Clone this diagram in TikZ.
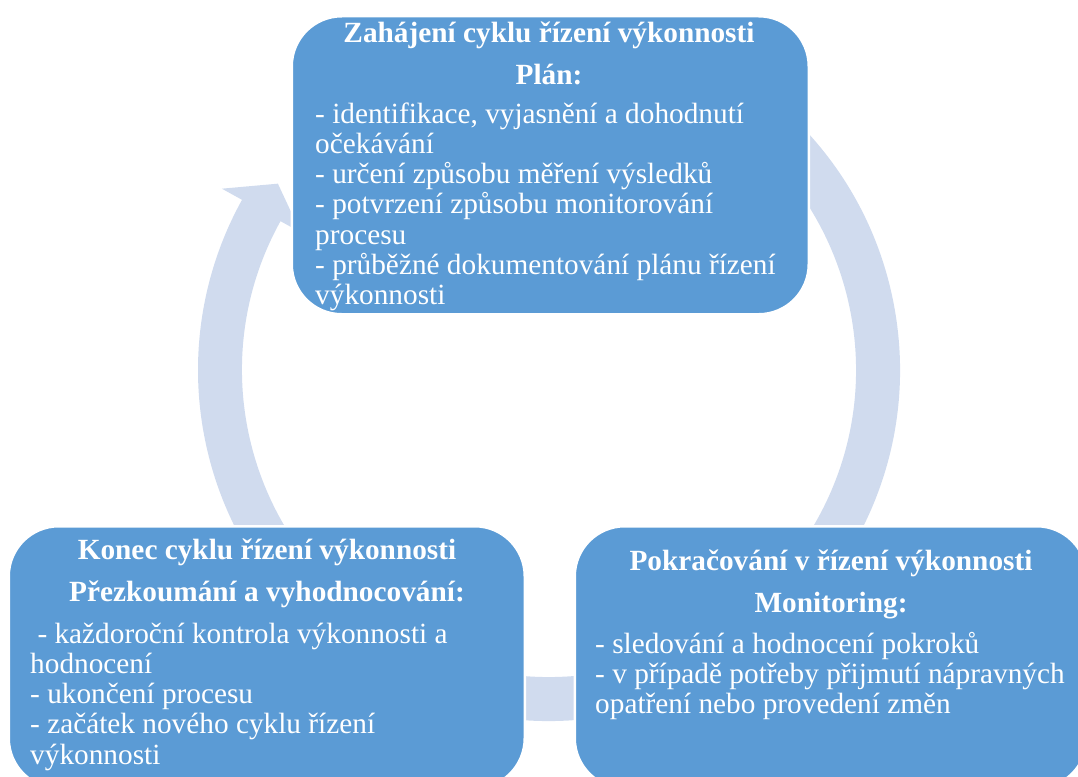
\documentclass[tikz,border=0pt]{standalone}
\usepackage{fontspec}
\setmainfont{Liberation Serif}
\usetikzlibrary{calc}
\definecolor{boxblue}{HTML}{5B9BD5}
\definecolor{ringblue}{HTML}{D0DBEE}
\begin{document}
\begin{tikzpicture}[x=1pt,y=-1pt,
  box/.style={fill=boxblue, draw=white, line width=2.5pt, rounded corners=50pt, inner sep=0pt, anchor=north west},
  ttl/.style={text=white, inner sep=0pt, font=\fontsize{29.3}{42}\selectfont\bfseries, anchor=base},
  body/.style={text=white, inner sep=0pt, font=\fontsize{29.3}{30.3}\selectfont, anchor=base west}]
\useasboundingbox (0,0) rectangle (1078,776);
\coordinate (c) at (549,370);
% circular arrow
\fill[ringblue] ($(c)+(-100:351)$) arc[start angle=-100, end angle=209, radius=351]
  -- ($(c)+(209:374)$) -- ($(c)+(214.5:329)$) -- ($(c)+(209:284)$)
  -- ($(c)+(209:307)$) arc[start angle=209, end angle=-100, radius=307] -- cycle;
% boxes
\node[box, minimum width=517pt, minimum height=298pt] (plan) at (290.5,15) {};
\node[box, minimum width=516pt, minimum height=262pt] (review) at (7.5,525) {};
\node[box, minimum width=512pt, minimum height=262pt] (monitor) at (573.5,525) {};
% texts
\node[ttl] (plantitle) at (549,42) {\begin{tabular}[t]{@{}c@{}}Zahájení cyklu řízení výkonnosti\\ Plán:\end{tabular}};
\node[body] (planbody) at (315,123) {\begin{tabular}[t]{@{}l@{}}- identifikace, vyjasnění a dohodnutí\\ očekávání\\ - určení způsobu měření výsledků\\ - potvrzení způsobu monitorování\\ procesu\\ - průběžné dokumentování plánu řízení\\ výkonnosti\end{tabular}};
\node[ttl] (reviewtitle) at (267,559) {\begin{tabular}[t]{@{}c@{}}Konec cyklu řízení výkonnosti\\ Přezkoumání a vyhodnocování:\end{tabular}};
\node[body] (reviewbody) at (30,643) {\begin{tabular}[t]{@{}l@{}}\ - každoroční kontrola výkonnosti a\\ hodnocení\\ - ukončení procesu\\ - začátek nového cyklu řízení\\ výkonnosti\end{tabular}};
\node[ttl] (monitortitle) at (831,570) {\begin{tabular}[t]{@{}c@{}}Pokračování v řízení výkonnosti\\ Monitoring:\end{tabular}};
\node[body] (monitorbody) at (595,653) {\begin{tabular}[t]{@{}l@{}}- sledování a hodnocení pokroků\\ - v případě potřeby přijmutí nápravných\\ opatření nebo provedení změn\end{tabular}};
\end{tikzpicture}
\end{document}
